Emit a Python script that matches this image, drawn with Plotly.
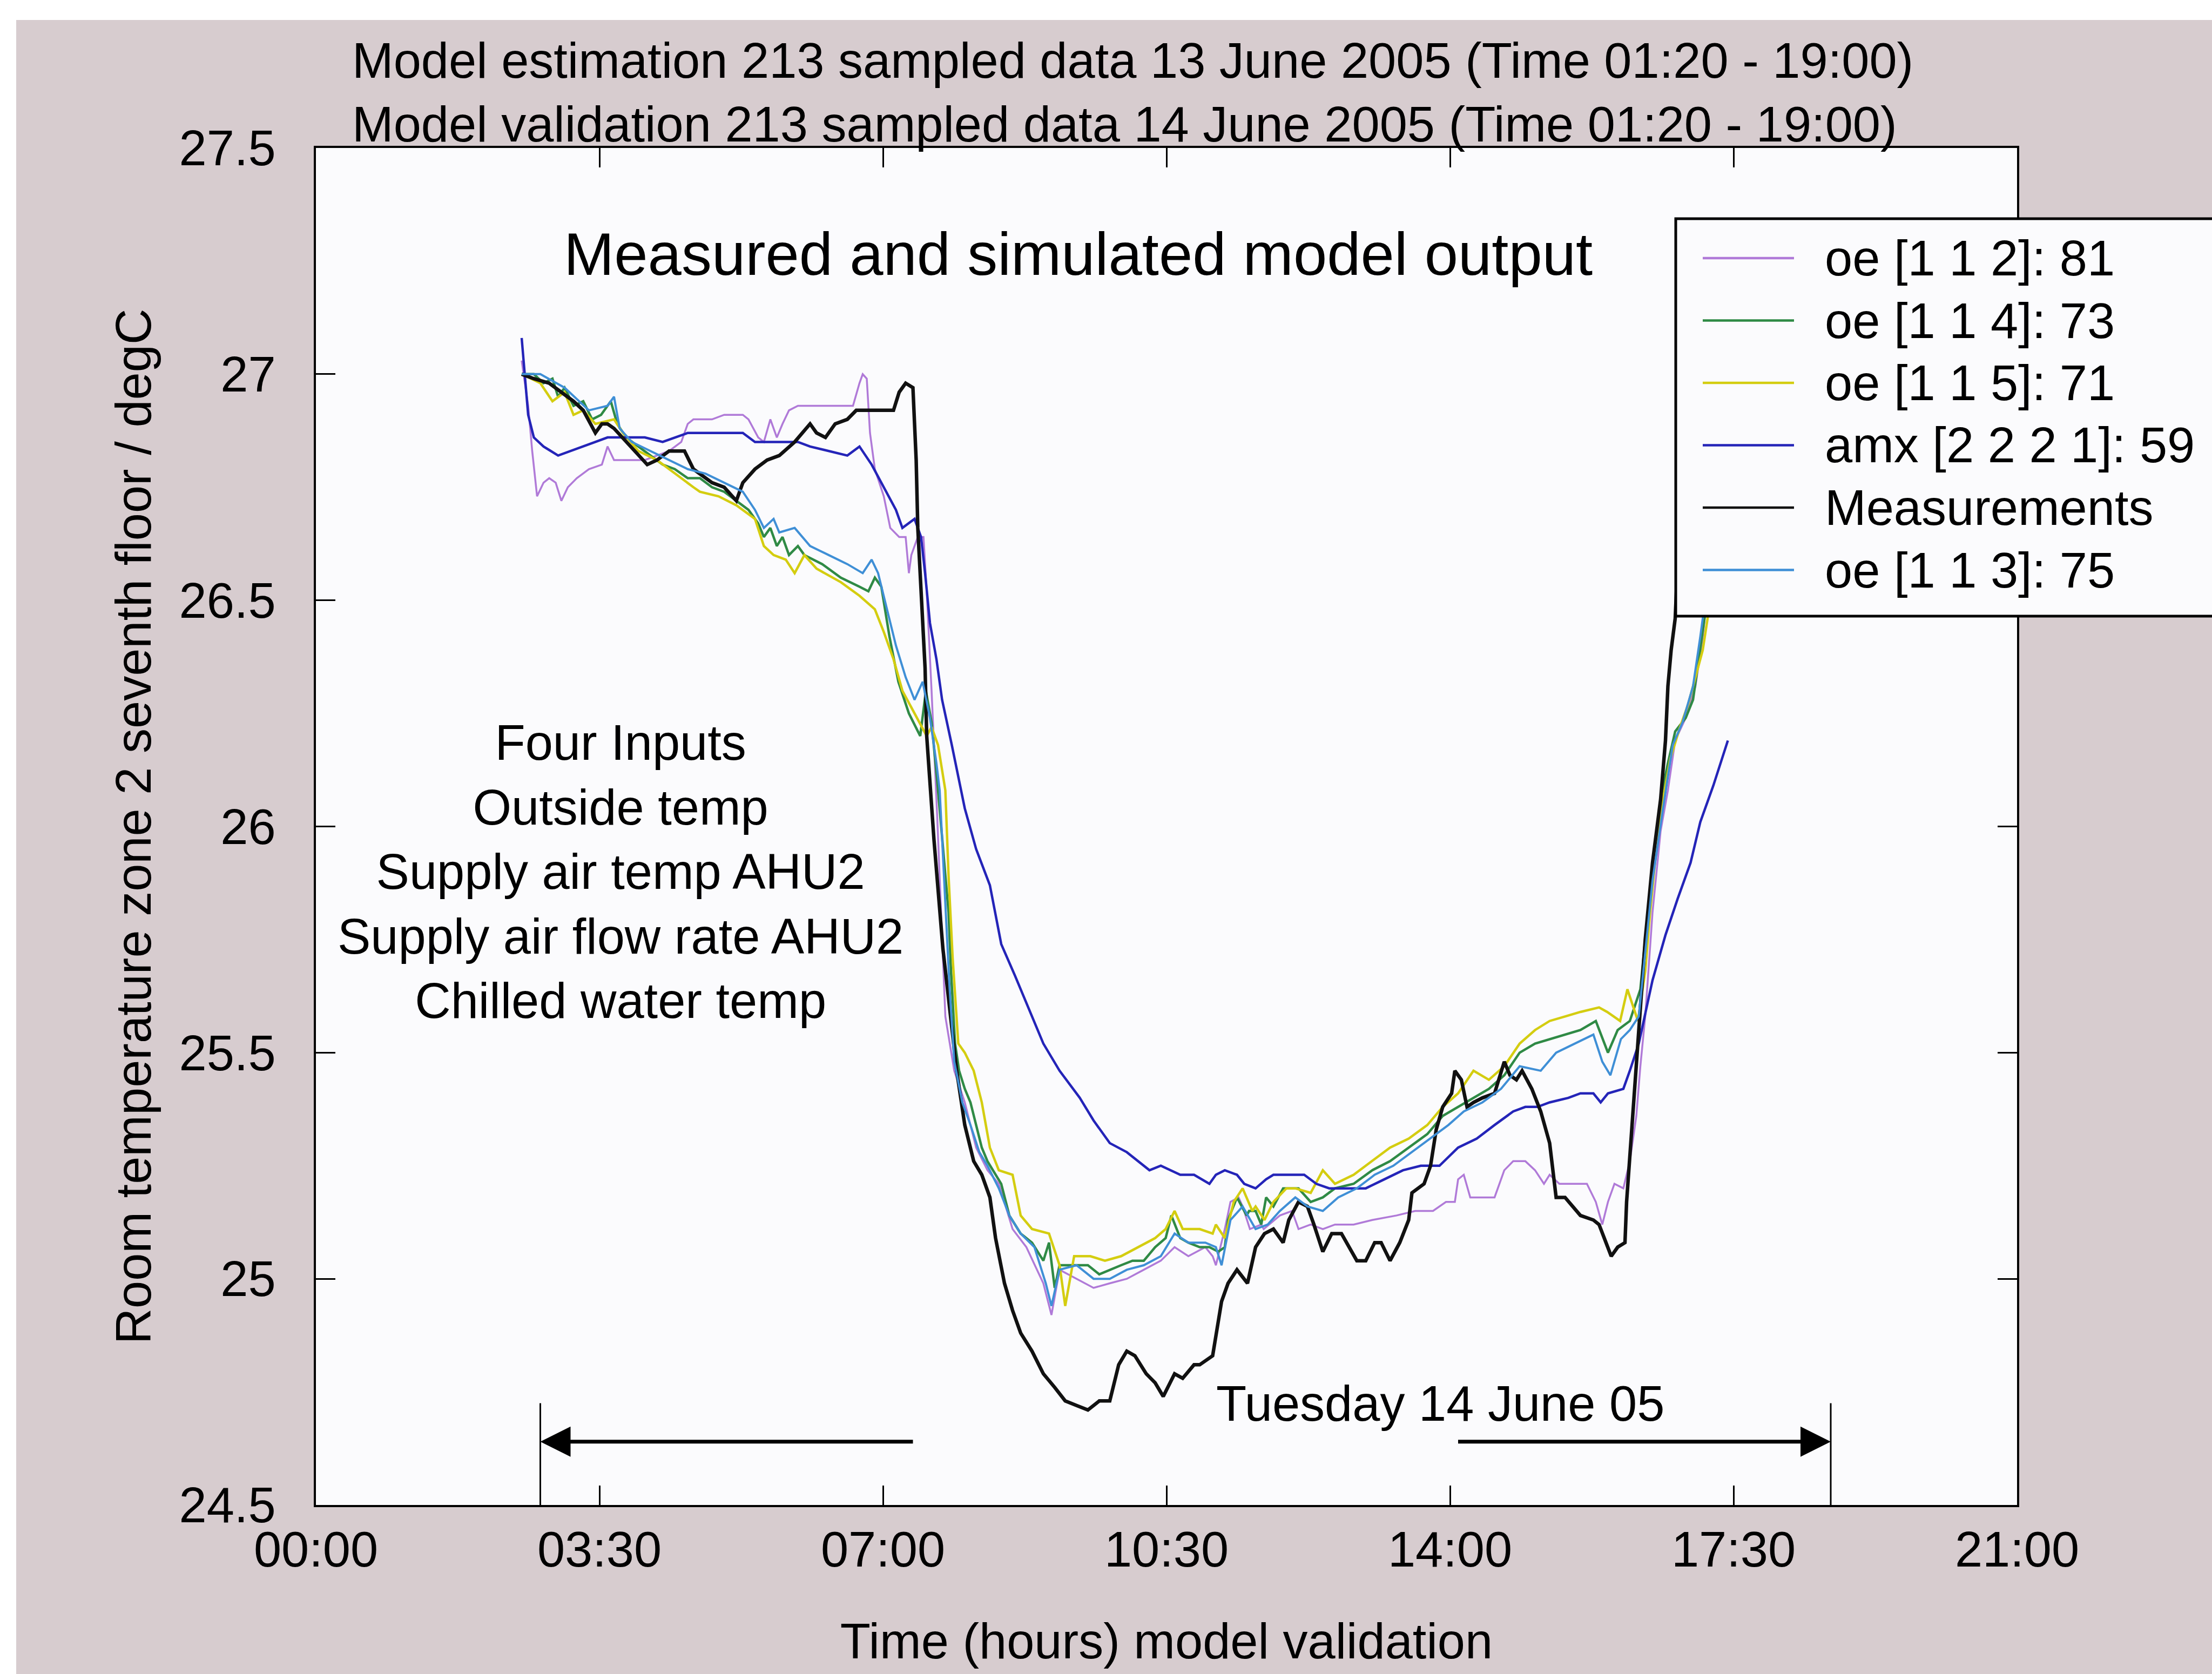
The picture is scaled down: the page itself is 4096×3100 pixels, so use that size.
import plotly.graph_objects as go

# ---------------- data (time in hours, temperature in degC) ----------------
t_oe112 = [2.54, 2.62, 2.67, 2.73, 2.81, 2.88, 2.96, 3.03, 3.11, 3.22, 3.37, 3.53, 3.60, 3.68, 3.75, 3.90,
           4.06, 4.21, 4.36, 4.51, 4.59, 4.66, 4.89, 5.04, 5.27, 5.34, 5.46, 5.53, 5.61, 5.69, 5.76, 5.84,
           5.95, 6.10, 6.33, 6.56, 6.63, 6.71, 6.75, 6.80, 6.84, 6.90, 7.01, 7.09, 7.20, 7.28, 7.32, 7.35,
           7.43, 7.50, 7.54, 7.60, 7.67, 7.77, 7.88, 8.01, 8.15, 8.29, 8.43, 8.60, 8.77, 8.98, 9.08, 9.18,
           9.39, 9.60, 9.80, 10.01, 10.22, 10.43, 10.60, 10.77, 10.98, 11.07, 11.11, 11.22, 11.29, 11.39,
           11.44, 11.53, 11.67, 11.70, 11.90, 12.05, 12.13, 12.28, 12.43, 12.58, 12.81, 13.04, 13.34, 13.57,
           13.79, 13.95, 14.06, 14.10, 14.17, 14.25, 14.40, 14.55, 14.67, 14.78, 14.93, 15.05, 15.16, 15.23,
           15.35, 15.54, 15.69, 15.80, 15.88, 15.95, 16.03, 16.14, 16.22, 16.30, 16.35, 16.41, 16.50, 16.60,
           16.69, 16.78, 16.91, 17.03, 17.12, 17.15, 17.25]
y_oe112 = [27.03, 26.93, 26.83, 26.73, 26.76, 26.77, 26.76, 26.72, 26.75, 26.77, 26.79, 26.80, 26.84, 26.81, 26.81, 26.81,
           26.81, 26.82, 26.83, 26.85, 26.89, 26.90, 26.90, 26.91, 26.91, 26.90, 26.86, 26.85, 26.90, 26.86, 26.89, 26.92,
           26.93, 26.93, 26.93, 26.93, 26.93, 26.98, 27.00, 26.99, 26.87, 26.79, 26.73, 26.66, 26.64, 26.64, 26.56, 26.60,
           26.64, 26.64, 26.52, 26.30, 26.02, 25.58, 25.46, 25.39, 25.29, 25.24, 25.21, 25.11, 25.07, 24.99, 24.92, 25.02,
           25.00, 24.98, 24.99, 25.00, 25.02, 25.04, 25.07, 25.05, 25.07, 25.05, 25.03, 25.11, 25.17, 25.18,
           25.16, 25.11, 25.12, 25.11, 25.14, 25.15, 25.11, 25.12, 25.11, 25.12, 25.12, 25.13, 25.14, 25.15,
           25.15, 25.17, 25.17, 25.22, 25.23, 25.18, 25.18, 25.18, 25.24, 25.26, 25.26, 25.24, 25.21, 25.23,
           25.21, 25.21, 25.21, 25.17, 25.12, 25.17, 25.21, 25.20, 25.26, 25.36, 25.47, 25.58, 25.81, 25.99,
           26.08, 26.19, 26.24, 26.31, 26.42, 26.47, 26.58]

t_oe114 = [2.54, 2.69, 2.81, 2.92, 2.99, 3.07, 3.18, 3.30, 3.41, 3.52, 3.64, 3.72, 3.83, 3.98, 4.13, 4.28,
           4.43, 4.59, 4.74, 4.89, 5.04, 5.19, 5.34, 5.46, 5.53, 5.61, 5.69, 5.76, 5.84, 5.95, 6.03, 6.25,
           6.48, 6.71, 6.82, 6.90, 6.98, 7.08, 7.19, 7.32, 7.46, 7.53, 7.60, 7.67, 7.74, 7.81, 7.84, 7.89,
           7.94, 8.01, 8.08, 8.15, 8.22, 8.29, 8.36, 8.46, 8.56, 8.70, 8.84, 8.98, 9.05, 9.12, 9.18, 9.32,
           9.53, 9.67, 9.80, 9.94, 10.08, 10.22, 10.36, 10.49, 10.56, 10.67, 10.77, 10.91, 11.03, 11.14, 11.22,
           11.26, 11.37, 11.49, 11.52, 11.60, 11.67, 11.73, 11.82, 11.94, 12.13, 12.28, 12.43, 12.58, 12.81,
           13.04, 13.26, 13.49, 13.72, 13.91, 14.10, 14.29, 14.48, 14.67, 14.86, 15.05, 15.23, 15.42, 15.61,
           15.80, 15.95, 16.07, 16.22, 16.35, 16.41, 16.50, 16.60, 16.69, 16.78, 16.91, 17.00, 17.06, 17.12,
           17.15, 17.25]
y_oe114 = [27.00, 27.00, 26.98, 26.99, 26.95, 26.97, 26.93, 26.94, 26.90, 26.91, 26.94, 26.89, 26.86, 26.84, 26.82, 26.80,
           26.79, 26.77, 26.77, 26.75, 26.74, 26.72, 26.70, 26.67, 26.64, 26.66, 26.62, 26.64, 26.60, 26.62, 26.60, 26.58,
           26.55, 26.53, 26.52, 26.55, 26.53, 26.42, 26.32, 26.25, 26.20, 26.30, 26.23, 26.10, 25.95, 25.81, 25.68, 25.52,
           25.46, 25.42, 25.39, 25.34, 25.29, 25.26, 25.24, 25.21, 25.14, 25.10, 25.08, 25.04, 25.08, 24.98, 25.03, 25.03,
           25.03, 25.01, 25.02, 25.03, 25.04, 25.04, 25.07, 25.09, 25.14, 25.09, 25.08, 25.07, 25.07, 25.06, 25.07,
           25.13, 25.18, 25.14, 25.15, 25.15, 25.12, 25.18, 25.16, 25.20, 25.20, 25.17, 25.18, 25.20, 25.21,
           25.24, 25.26, 25.29, 25.32, 25.36, 25.38, 25.40, 25.42, 25.45, 25.50, 25.52, 25.53, 25.54, 25.55,
           25.57, 25.50, 25.55, 25.57, 25.64, 25.75, 25.92, 26.06, 26.14, 26.21, 26.24, 26.28, 26.36, 26.44,
           26.47, 26.60]

t_oe115 = [2.54, 2.77, 2.92, 3.07, 3.18, 3.30, 3.45, 3.68, 3.79, 3.98, 4.21, 4.43, 4.66, 4.74, 4.97, 5.19,
           5.42, 5.53, 5.65, 5.80, 5.91, 6.03, 6.18, 6.48, 6.71, 6.90, 7.01, 7.13, 7.24, 7.39, 7.54, 7.60,
           7.68, 7.77, 7.81, 7.86, 7.93, 8.01, 8.12, 8.22, 8.32, 8.43, 8.60, 8.70, 8.84, 9.05, 9.18, 9.25,
           9.36, 9.56, 9.74, 9.94, 10.15, 10.36, 10.49, 10.60, 10.70, 10.91, 11.07, 11.11, 11.22, 11.33, 11.44,
           11.56, 11.60, 11.71, 11.82, 11.98, 12.09, 12.28, 12.43, 12.58, 12.81, 13.04, 13.26, 13.49, 13.72,
           13.91, 14.10, 14.29, 14.48, 14.67, 14.86, 15.05, 15.23, 15.42, 15.61, 15.84, 15.94, 16.10, 16.19,
           16.32, 16.41, 16.47, 16.53, 16.63, 16.72, 16.84, 16.94, 17.03, 17.12, 17.18, 17.28]
y_oe115 = [27.00, 26.98, 26.94, 26.96, 26.91, 26.92, 26.89, 26.90, 26.87, 26.83, 26.81, 26.78, 26.75, 26.74, 26.73, 26.71,
           26.68, 26.62, 26.60, 26.59, 26.56, 26.60, 26.57, 26.54, 26.51, 26.48, 26.43, 26.37, 26.30, 26.25, 26.20, 26.22,
           26.18, 26.08, 25.89, 25.71, 25.52, 25.50, 25.46, 25.39, 25.29, 25.24, 25.23, 25.14, 25.11, 25.10, 25.03, 24.94,
           25.05, 25.05, 25.04, 25.05, 25.07, 25.09, 25.11, 25.15, 25.11, 25.11, 25.10, 25.12, 25.09, 25.17, 25.20,
           25.15, 25.16, 25.13, 25.17, 25.20, 25.20, 25.19, 25.24, 25.21, 25.23, 25.26, 25.29, 25.31, 25.34,
           25.38, 25.41, 25.46, 25.44, 25.47, 25.52, 25.55, 25.57, 25.58, 25.59, 25.60, 25.59, 25.57, 25.64,
           25.57, 25.68, 25.81, 25.92, 26.06, 26.15, 26.22, 26.27, 26.33, 26.39, 26.46, 26.60]

t_amx = [2.54, 2.58, 2.62, 2.69, 2.81, 2.99, 3.15, 3.30, 3.45, 3.60, 3.83, 4.06, 4.28, 4.43, 4.59, 4.81,
         5.04, 5.27, 5.42, 5.57, 5.72, 5.95, 6.10, 6.33, 6.56, 6.71, 6.86, 7.01, 7.16, 7.24, 7.39, 7.47,
         7.52, 7.58, 7.66, 7.73, 7.85, 8.01, 8.15, 8.32, 8.46, 8.63, 8.84, 8.98, 9.18, 9.43, 9.60, 9.80,
         10.01, 10.29, 10.43, 10.67, 10.84, 11.03, 11.11, 11.22, 11.37, 11.46, 11.60, 11.73, 11.82, 12.05,
         12.20, 12.35, 12.51, 12.73, 12.96, 13.19, 13.42, 13.64, 13.87, 14.10, 14.33, 14.55, 14.78, 14.93,
         15.08, 15.23, 15.46, 15.61, 15.77, 15.86, 15.95, 16.14, 16.22, 16.33, 16.43, 16.50, 16.66, 16.81,
         16.97, 17.09, 17.25, 17.43]
y_amx = [27.08, 27.00, 26.91, 26.86, 26.84, 26.82, 26.83, 26.84, 26.85, 26.86, 26.86, 26.86, 26.85, 26.86, 26.87, 26.87,
         26.87, 26.87, 26.85, 26.85, 26.85, 26.85, 26.84, 26.83, 26.82, 26.84, 26.80, 26.75, 26.70, 26.66, 26.68, 26.64,
         26.56, 26.45, 26.37, 26.28, 26.18, 26.04, 25.95, 25.87, 25.74, 25.67, 25.58, 25.52, 25.46, 25.40, 25.35, 25.30,
         25.28, 25.24, 25.25, 25.23, 25.23, 25.21, 25.23, 25.24, 25.23, 25.21, 25.20, 25.22, 25.23, 25.23,
         25.23, 25.21, 25.20, 25.20, 25.20, 25.22, 25.24, 25.25, 25.25, 25.29, 25.31, 25.34, 25.37, 25.38,
         25.38, 25.39, 25.40, 25.41, 25.41, 25.39, 25.41, 25.42, 25.46, 25.52, 25.60, 25.66, 25.76, 25.84,
         25.92, 26.01, 26.09, 26.19]

t_meas = [2.54, 2.69, 2.88, 3.18, 3.30, 3.45, 3.53, 3.60, 3.68, 3.83, 3.98, 4.09, 4.21, 4.36, 4.55, 4.66,
          4.89, 5.04, 5.19, 5.27, 5.42, 5.57, 5.72, 5.91, 6.10, 6.18, 6.29, 6.41, 6.56, 6.67, 6.86, 7.13,
          7.20, 7.28, 7.37, 7.41, 7.43, 7.47, 7.52, 7.54, 7.63, 7.74, 7.84, 7.91, 8.01, 8.12, 8.22, 8.32,
          8.39, 8.50, 8.60, 8.70, 8.84, 8.98, 9.12, 9.25, 9.39, 9.53, 9.67, 9.80, 9.91, 10.01, 10.11, 10.25,
          10.36, 10.46, 10.60, 10.70, 10.84, 10.91, 11.07, 11.18, 11.26, 11.37, 11.50, 11.60, 11.71, 11.82,
          11.94, 12.01, 12.13, 12.24, 12.32, 12.43, 12.54, 12.66, 12.85, 12.96, 13.07, 13.15, 13.26, 13.38,
          13.49, 13.53, 13.68, 13.76, 13.83, 13.91, 14.02, 14.06, 14.14, 14.21, 14.29, 14.40, 14.55, 14.67,
          14.74, 14.82, 14.89, 15.01, 15.12, 15.23, 15.31, 15.42, 15.61, 15.77, 15.84, 15.99, 16.07, 16.16,
          16.18, 16.22, 16.26, 16.30, 16.35, 16.41, 16.50, 16.60, 16.66, 16.69, 16.73, 16.78, 16.80, 16.90]
y_meas = [27.00, 26.99, 26.98, 26.94, 26.92, 26.87, 26.89, 26.89, 26.88, 26.85, 26.82, 26.80, 26.81, 26.83, 26.83, 26.79,
          26.76, 26.75, 26.72, 26.76, 26.79, 26.81, 26.82, 26.85, 26.89, 26.87, 26.86, 26.89, 26.90, 26.92, 26.92, 26.92,
          26.96, 26.98, 26.97, 26.81, 26.66, 26.51, 26.35, 26.20, 25.97, 25.73, 25.58, 25.46, 25.34, 25.26, 25.23, 25.18,
          25.09, 24.99, 24.93, 24.88, 24.84, 24.79, 24.76, 24.73, 24.72, 24.71, 24.73, 24.73, 24.81, 24.84, 24.83, 24.79,
          24.77, 24.74, 24.79, 24.78, 24.81, 24.81, 24.83, 24.95, 24.99, 25.02, 24.99, 25.07, 25.10, 25.11,
          25.08, 25.13, 25.17, 25.16, 25.12, 25.06, 25.10, 25.10, 25.04, 25.04, 25.08, 25.08, 25.04, 25.08,
          25.13, 25.19, 25.21, 25.25, 25.33, 25.38, 25.41, 25.46, 25.44, 25.38, 25.39, 25.40, 25.41, 25.48,
          25.45, 25.44, 25.46, 25.42, 25.37, 25.30, 25.18, 25.18, 25.14, 25.13, 25.12, 25.05, 25.07, 25.08,
          25.17, 25.27, 25.37, 25.47, 25.60, 25.75, 25.92, 26.06, 26.19, 26.31, 26.39, 26.46, 26.54, 26.70]

t_oe113 = [2.54, 2.77, 3.07, 3.37, 3.60, 3.68, 3.75, 3.90, 4.13, 4.36, 4.59, 4.81, 5.04, 5.27, 5.42, 5.53,
           5.65, 5.72, 5.91, 6.10, 6.33, 6.56, 6.75, 6.86, 6.94, 7.05, 7.16, 7.28, 7.39, 7.49, 7.58, 7.66,
           7.70, 7.77, 7.82, 7.88, 7.98, 8.08, 8.19, 8.29, 8.43, 8.56, 8.70, 8.87, 9.01, 9.08, 9.18, 9.39,
           9.60, 9.80, 10.01, 10.22, 10.43, 10.60, 10.77, 10.98, 11.11, 11.18, 11.29, 11.44, 11.60, 11.75,
           11.90, 12.09, 12.24, 12.43, 12.62, 12.85, 13.07, 13.30, 13.53, 13.76, 13.98, 14.17, 14.40, 14.63,
           14.86, 15.12, 15.31, 15.54, 15.77, 15.88, 15.98, 16.11, 16.22, 16.33, 16.40, 16.50, 16.63, 16.75,
           16.87, 17.00, 17.09, 17.12, 17.22]
y_oe113 = [27.00, 27.00, 26.97, 26.92, 26.93, 26.95, 26.88, 26.85, 26.83, 26.81, 26.79, 26.78, 26.76, 26.74, 26.70, 26.66,
           26.68, 26.65, 26.66, 26.62, 26.60, 26.58, 26.56, 26.59, 26.56, 26.48, 26.40, 26.33, 26.28, 26.32, 26.24, 26.14,
           26.08, 25.83, 25.65, 25.48, 25.39, 25.34, 25.28, 25.25, 25.20, 25.14, 25.10, 25.07, 24.99, 24.94, 25.02, 25.03,
           25.00, 25.00, 25.02, 25.03, 25.05, 25.10, 25.08, 25.08, 25.07, 25.03, 25.13, 25.16, 25.11, 25.12,
           25.15, 25.18, 25.16, 25.15, 25.18, 25.20, 25.23, 25.25, 25.28, 25.31, 25.34, 25.37, 25.39, 25.42,
           25.47, 25.46, 25.50, 25.52, 25.54, 25.48, 25.45, 25.53, 25.55, 25.58, 25.70, 25.88, 26.04, 26.18,
           26.23, 26.31, 26.42, 26.46, 26.58]

series_names = ["oe [1 1 2]: 81", "oe [1 1 4]: 73", "oe [1 1 5]: 71",
                "amx [2 2 2 1]: 59", "Measurements", "oe [1 1 3]: 75"]
series_t = [t_oe112, t_oe114, t_oe115, t_amx, t_meas, t_oe113]
series_y = [y_oe112, y_oe114, y_oe115, y_amx, y_meas, y_oe113]

x_tickvals = [0, 3.5, 7, 10.5, 14, 17.5, 21]
x_ticktext = ["00:00", "03:30", "07:00", "10:30", "14:00", "17:30", "21:00"]
y_tickvals = [24.5, 25, 25.5, 26, 26.5, 27, 27.5]
y_ticktext = ["24.5", "25", "25.5", "26", "26.5", "27", "27.5"]

title_lines = ["Model estimation 213 sampled data 13 June 2005 (Time 01:20 - 19:00)",
               "Model validation 213 sampled data 14 June 2005 (Time 01:20 - 19:00)"]
subtitle = "Measured and simulated model output"
input_lines = ["Four Inputs", "Outside temp", "Supply air temp AHU2",
               "Supply air flow rate AHU2", "Chilled water temp"]
day_label = "Tuesday 14 June 05"

# ---------------- styles ----------------
colors = ["#b07ad8", "#2f8a45", "#d4cd10", "#2424b8", "#111111", "#3f8fd6"]
widths = [3.5, 4.5, 4.5, 4.5, 6.5, 4]
FONT = "Liberation Sans, Arial, sans-serif"
FS = 92

W, H = 4096, 3100
L, R, T, B = 585, 3735, 274, 2787   # plot area in pixels


def px(x):
    return (x - L) / (R - L)


def py(y):
    return (B - y) / (B - T)


fig = go.Figure()
for name, t, y, c, w in zip(series_names, series_t, series_y, colors, widths):
    fig.add_trace(go.Scatter(x=t, y=y, mode="lines", name=name,
                             line=dict(color=c, width=w), showlegend=False))

axis_common = dict(showline=True, linecolor="black", linewidth=4, mirror="ticks",
                   ticks="inside", ticklen=36, tickwidth=3, tickcolor="black",
                   showgrid=False, zeroline=False,
                   tickfont=dict(family=FONT, size=FS, color="black"))

fig.update_layout(
    width=W, height=H,
    margin=dict(l=L, r=W - R, t=T, b=H - B, pad=0),
    paper_bgcolor="#d7cccf",
    plot_bgcolor="#fbfbfd",
    font=dict(family=FONT, size=FS, color="black"),
    xaxis=dict(range=[0, 21], tickvals=x_tickvals, ticktext=x_ticktext,
               ticklabelstandoff=0,
               title=dict(text="Time (hours) model validation", standoff=88,
                          font=dict(family=FONT, size=FS, color="black")),
               **axis_common),
    yaxis=dict(range=[24.5, 27.5], tickvals=y_tickvals, ticktext=y_ticktext,
               ticklabelstandoff=52,
               title=dict(text="Room temperature zone 2 seventh floor / degC", standoff=22,
                          font=dict(family=FONT, size=FS, color="black")),
               **axis_common),
    showlegend=False,
)

shapes = []
annotations = []

# scan margins (white strips at top and left)
shapes.append(dict(type="rect", xref="paper", yref="paper", layer="below",
                   x0=px(0), x1=px(W), y0=py(37), y1=py(0),
                   fillcolor="white", line=dict(width=0)))
shapes.append(dict(type="rect", xref="paper", yref="paper", layer="below",
                   x0=px(0), x1=px(30), y0=py(H), y1=py(0),
                   fillcolor="white", line=dict(width=0)))

# title lines
for line, ypix in zip(title_lines, [112, 230]):
    annotations.append(dict(text=line, xref="paper", yref="paper", x=px(650), y=py(ypix),
                            xanchor="left", yanchor="middle", showarrow=False,
                            font=dict(family=FONT, size=FS, color="black")))

annotations.append(dict(text=subtitle, xref="paper", yref="paper", x=px(1996), y=py(470),
                        xanchor="center", yanchor="middle", showarrow=False,
                        font=dict(family=FONT, size=112, color="black")))

annotations.append(dict(text="<br>".join(input_lines), xref="x", yref="y", x=3.76, y=25.9,
                        xanchor="center", yanchor="middle", align="center", showarrow=False,
                        font=dict(family=FONT, size=FS, color="black")))

annotations.append(dict(text=day_label, xref="x", yref="y", x=13.88, y=24.725,
                        xanchor="center", yanchor="middle", showarrow=False,
                        font=dict(family=FONT, size=FS, color="black")))

# period arrows and markers
for tip, tail in [(2.77, 7.38), (18.70, 14.09)]:
    annotations.append(dict(text="", x=tip, y=24.64, ax=tail, ay=24.64,
                            xref="x", yref="y", axref="x", ayref="y",
                            showarrow=True, arrowhead=2, arrowsize=1.6, arrowwidth=7,
                            arrowcolor="black", standoff=0, startstandoff=0))
    shapes.append(dict(type="line", xref="x", yref="y", x0=tip, x1=tip, y0=24.5, y1=24.725,
                       line=dict(color="black", width=3)))

# legend box (MATLAB style)
shapes.append(dict(type="rect", xref="paper", yref="paper", layer="above",
                   x0=px(3103), x1=px(4300), y0=py(1141), y1=py(405),
                   fillcolor="#fbfbfd", line=dict(color="black", width=5)))
for i, (name, c) in enumerate(zip(series_names, colors)):
    yrow = 478 + i * 115.5
    shapes.append(dict(type="line", xref="paper", yref="paper", layer="above",
                       x0=px(3153), x1=px(3322), y0=py(yrow), y1=py(yrow),
                       line=dict(color=c, width=4.5)))
    annotations.append(dict(text=name, xref="paper", yref="paper", x=px(3377), y=py(yrow),
                            xanchor="left", yanchor="middle", showarrow=False,
                            font=dict(family=FONT, size=FS, color="black")))

fig.update_layout(shapes=shapes, annotations=annotations)
fig.write_html("out.html")
